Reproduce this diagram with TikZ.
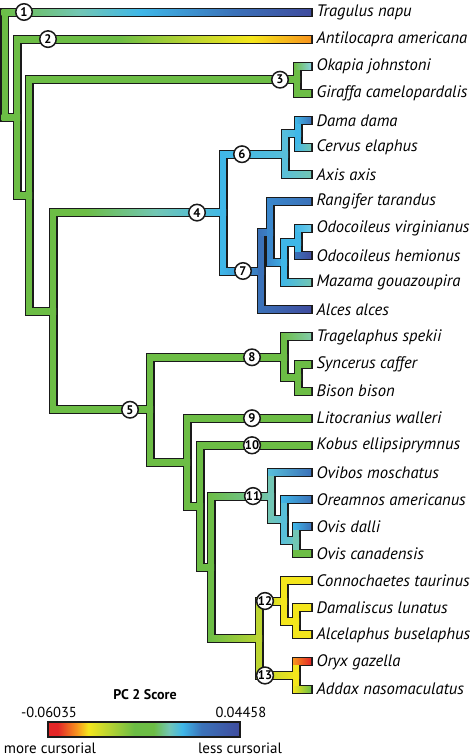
\documentclass[tikz,border=0pt]{standalone}
\usepackage{fontspec}
\setmainfont{PT Sans}
\usepackage{tikz}
\definecolor{pcred}{HTML}{E42627}
\definecolor{pcorange}{HTML}{F7941D}
\definecolor{pcyellow}{HTML}{F4E61C}
\definecolor{pcygreen}{HTML}{BCD531}
\definecolor{pcgreen}{HTML}{6CBD45}
\definecolor{pcteal}{HTML}{72C6B4}
\definecolor{pcmint}{HTML}{82CBA8}
\definecolor{pcpale}{HTML}{88D1DC}
\definecolor{pccyan}{HTML}{3FB7E8}
\definecolor{pclcyan}{HTML}{6CCAE8}
\definecolor{pcsky}{HTML}{58BFDA}
\definecolor{pcmblue}{HTML}{3A87CC}
\definecolor{pcblue}{HTML}{3B72B9}
\definecolor{pcdblue}{HTML}{3F4C9E}
\definecolor{pcink}{HTML}{1A1A1A}
% colour scale of the legend bar
\pgfdeclarehorizontalshading{pcscale}{100bp}{color(0bp)=(pcred); color(27.5bp)=(pcred);
  color(32.5bp)=(pcorange); color(35.5bp)=(pcyellow); color(40.5bp)=(pcygreen);
  color(47.5bp)=(pcgreen); color(52.5bp)=(pcgreen); color(56.5bp)=(pcteal);
  color(60bp)=(pccyan); color(65bp)=(pcblue); color(75bp)=(pcdblue); color(100bp)=(pcdblue)}
% long branches that cross several colours
\pgfdeclarehorizontalshading{tragulus}{100bp}{color(0bp)=(pcgreen); color(25bp)=(pcgreen);
  color(37.5bp)=(pcteal); color(47.5bp)=(pccyan); color(62.5bp)=(pcblue);
  color(75bp)=(pcdblue); color(100bp)=(pcdblue)}
\pgfdeclarehorizontalshading{antilocapra}{100bp}{color(0bp)=(pcgreen); color(42.5bp)=(pcgreen);
  color(55bp)=(pcygreen); color(65bp)=(pcyellow); color(75bp)=(pcorange); color(100bp)=(pcorange)}
\pgfdeclarehorizontalshading{cervid}{100bp}{color(0bp)=(pcgreen); color(35bp)=(pcgreen);
  color(55bp)=(pcteal); color(75bp)=(pccyan); color(100bp)=(pccyan)}
\tikzset{
  outline/.style={draw=pcink,line width=9pt,line cap=rect},
  core/.style={line width=6pt,line cap=rect},
  badge/.style={circle,draw=pcink,line width=1.5pt,fill=white,inner sep=0pt,
    minimum size=16.5pt,font=\bfseries\fontsize{12.5}{13}\selectfont},
  taxon/.style={anchor=west,inner sep=0pt,font=\itshape\fontsize{16.6}{18}\selectfont},
}
% horizontal shaded core of one branch
\newcommand{\twig}[4]{%
  \draw[core,draw=#3] (#1) -- (#1 |- #2);
  \coordinate (#1#2) at (#1 |- #2);
  \shade[#4] ([shift={(-3,-3)}]#1#2) rectangle ([shift={(3,3)}]#2);
}

\begin{document}
\begin{tikzpicture}[x=1pt,y=-1pt,line join=miter]
\useasboundingbox (0,0) rectangle (474,755);
\fill[white] (0,0) rectangle (474,755);

% tips and names
\foreach \t/\name [count=\i from 0] in {tra/Tragulus napu,ant/Antilocapra americana,
  oka/Okapia johnstoni,gir/Giraffa camelopardalis,dam/Dama dama,cer/Cervus elaphus,
  axi/Axis axis,ran/Rangifer tarandus,odv/Odocoileus virginianus,odh/Odocoileus hemionus,
  maz/Mazama gouazoupira,alc/Alces alces,trg/Tragelaphus spekii,syn/Syncerus caffer,
  bis/Bison bison,lit/Litocranius walleri,kob/Kobus ellipsiprymnus,ovb/Ovibos moschatus,
  ore/Oreamnos americanus,ovd/Ovis dalli,ovc/Ovis canadensis,con/Connochaetes taurinus,
  dml/Damaliscus lunatus,acl/Alcelaphus buselaphus,ory/Oryx gazella,add/Addax nasomaculatus}{
  \coordinate (\t) at (308,{12+27.08*\i});
  \node[taxon] (\t-lab) at (316.5,{12+27.08*\i}) {\name};
}

% internal nodes
\coordinate (r) at (4.5,64.6);
\coordinate (a) at (17,117.3);
\coordinate (b) at (29,195.45);
\coordinate (g) at (297,79.7);
\coordinate (c) at (53,311.2);
\coordinate (cv) at (223,212.6);
\coordinate (n6) at (285,154.2);
\coordinate (dc) at (298,133.85);
\coordinate (n7) at (261,271);
\coordinate (rn) at (270,232);
\coordinate (om) at (284,262.5);
\coordinate (oo) at (298,242.15);
\coordinate (bv) at (150,409.75);
\coordinate (b8) at (284,357.3);
\coordinate (sb) at (298,377.55);
\coordinate (d) at (187,462.2);
\coordinate (e) at (200,506.2);
\coordinate (f) at (211,567.1);
\coordinate (cp) at (271,496.05);
\coordinate (oro) at (284,519.7);
\coordinate (ov) at (296,540.05);
\coordinate (ah) at (259,638.2);
\coordinate (al) at (284,601);
\coordinate (da) at (296,621.3);
\coordinate (hp) at (296,675.45);

% black rim of every branch
\foreach \up/\dn in {r/tra,r/a,a/ant,a/b,b/g,b/c,g/oka,g/gir,c/cv,c/bv,cv/n6,cv/n7,
  n6/dc,n6/axi,dc/dam,dc/cer,n7/rn,n7/alc,rn/ran,rn/om,om/oo,om/maz,oo/odv,oo/odh,
  bv/b8,bv/d,b8/trg,b8/sb,sb/syn,sb/bis,d/lit,d/e,e/kob,e/f,f/cp,f/ah,cp/ovb,cp/oro,
  oro/ore,oro/ov,ov/ovd,ov/ovc,ah/al,ah/hp,al/con,al/da,da/dml,da/acl,hp/ory,hp/add}
  \draw[outline] (\up) |- (\dn);

% coloured cores
\twig{r}{tra}{pcgreen}{shading=tragulus}
\twig{a}{ant}{pcgreen}{shading=antilocapra}
\twig{c}{cv}{pcgreen}{shading=cervid}
\foreach \up/\dn/\vc/\lc/\rc in {r/a/pcgreen/pcgreen/pcgreen,a/b/pcgreen/pcgreen/pcgreen,
  b/g/pcgreen/pcgreen/pcgreen,b/c/pcgreen/pcgreen/pcgreen,g/oka/pcgreen/pcgreen/pcpale,
  g/gir/pcgreen/pcgreen/pcgreen,c/bv/pcgreen/pcgreen/pcgreen,
  cv/n6/pccyan/pccyan/pcsky,cv/n7/pccyan/pccyan/pcblue,n6/dc/pcsky/pcsky/pccyan,
  n6/axi/pcsky/pcsky/pcteal,dc/dam/pccyan/pccyan/pcblue,dc/cer/pccyan/pccyan/pcteal,
  n7/rn/pcblue/pcblue/pcmblue,n7/alc/pcblue/pcblue/pcdblue,rn/ran/pcmblue/pcmblue/pcblue,
  rn/om/pcmblue/pcmblue/pccyan,om/oo/pccyan/pccyan/pccyan,om/maz/pccyan/pccyan/pcteal,
  oo/odv/pccyan/pccyan/pclcyan,oo/odh/pccyan/pcblue/pcdblue,
  bv/b8/pcgreen/pcgreen/pcgreen,bv/d/pcgreen/pcgreen/pcgreen,b8/trg/pcgreen/pcgreen/pcmint,
  b8/sb/pcgreen/pcgreen/pcgreen,sb/syn/pcgreen/pcgreen/pcgreen,sb/bis/pcgreen/pcgreen/pcgreen,
  d/lit/pcgreen/pcgreen/pcgreen,d/e/pcgreen/pcgreen/pcgreen,e/kob/pcgreen/pcgreen/pcgreen,
  e/f/pcgreen/pcgreen/pcgreen,f/cp/pcgreen/pcgreen/pcteal,f/ah/pcgreen/pcgreen/pcygreen,
  cp/ovb/pcteal/pcsky/pcblue,cp/oro/pcteal/pcteal/pcsky,oro/ore/pcsky/pccyan/pcblue,
  oro/ov/pcsky/pcsky/pcteal,ov/ovd/pcteal/pccyan/pcblue,ov/ovc/pcteal/pcgreen/pcgreen,
  ah/al/pcygreen/pcygreen/pcyellow,ah/hp/pcygreen/pcygreen/pcyellow,
  al/con/pcyellow/pcyellow/pcyellow,al/da/pcyellow/pcyellow/pcyellow,
  da/dml/pcyellow/pcyellow/pcyellow,da/acl/pcyellow/pcyellow/pcyellow,
  hp/ory/pcyellow/pcorange/pcred,hp/add/pcyellow/pcyellow/pcgreen}{
  \twig{\up}{\dn}{\vc}{left color=\lc,right color=\rc}
}

% numbered branches
\node[badge] (n1) at (24,12) {1};
\node[badge] (n2) at (48,39.1) {2};
\node[badge] (n3) at (280,79.7) {3};
\node[badge] (n4) at (197,212.6) {4};
\node[badge] (n5) at (130,409.75) {5};
\node[badge] (n6b) at (242,154.2) {6};
\node[badge] (n7b) at (243,271) {7};
\node[badge] (n8) at (252,357.3) {8};
\node[badge] (n9) at (252,418.2) {9};
\node[badge] (n10) at (252,445.3) {10};
\node[badge] (n11) at (253,496.05) {11};
\node[badge] (n12) at (265,601) {12};
\node[badge] (n13) at (265,675.45) {13};

% legend
\shade[shading=pcscale,draw=pcink,line width=1.2pt] (48,722) rectangle (240,737);
\node[font=\bfseries\fontsize{14}{16}\selectfont] (title) at (145,695) {PC 2 Score};
\node[font=\fontsize{14.5}{16}\selectfont] (lo) at (49,712) {-0.06035};
\node[font=\fontsize{14.5}{16}\selectfont] (hi) at (241,712) {0.04458};
\node[anchor=base,inner sep=0pt,font=\fontsize{15}{17}\selectfont] (more) at (50,753) {more cursorial};
\node[anchor=base,inner sep=0pt,font=\fontsize{15}{17}\selectfont] (less) at (240,753) {less cursorial};
\end{tikzpicture}
\end{document}
